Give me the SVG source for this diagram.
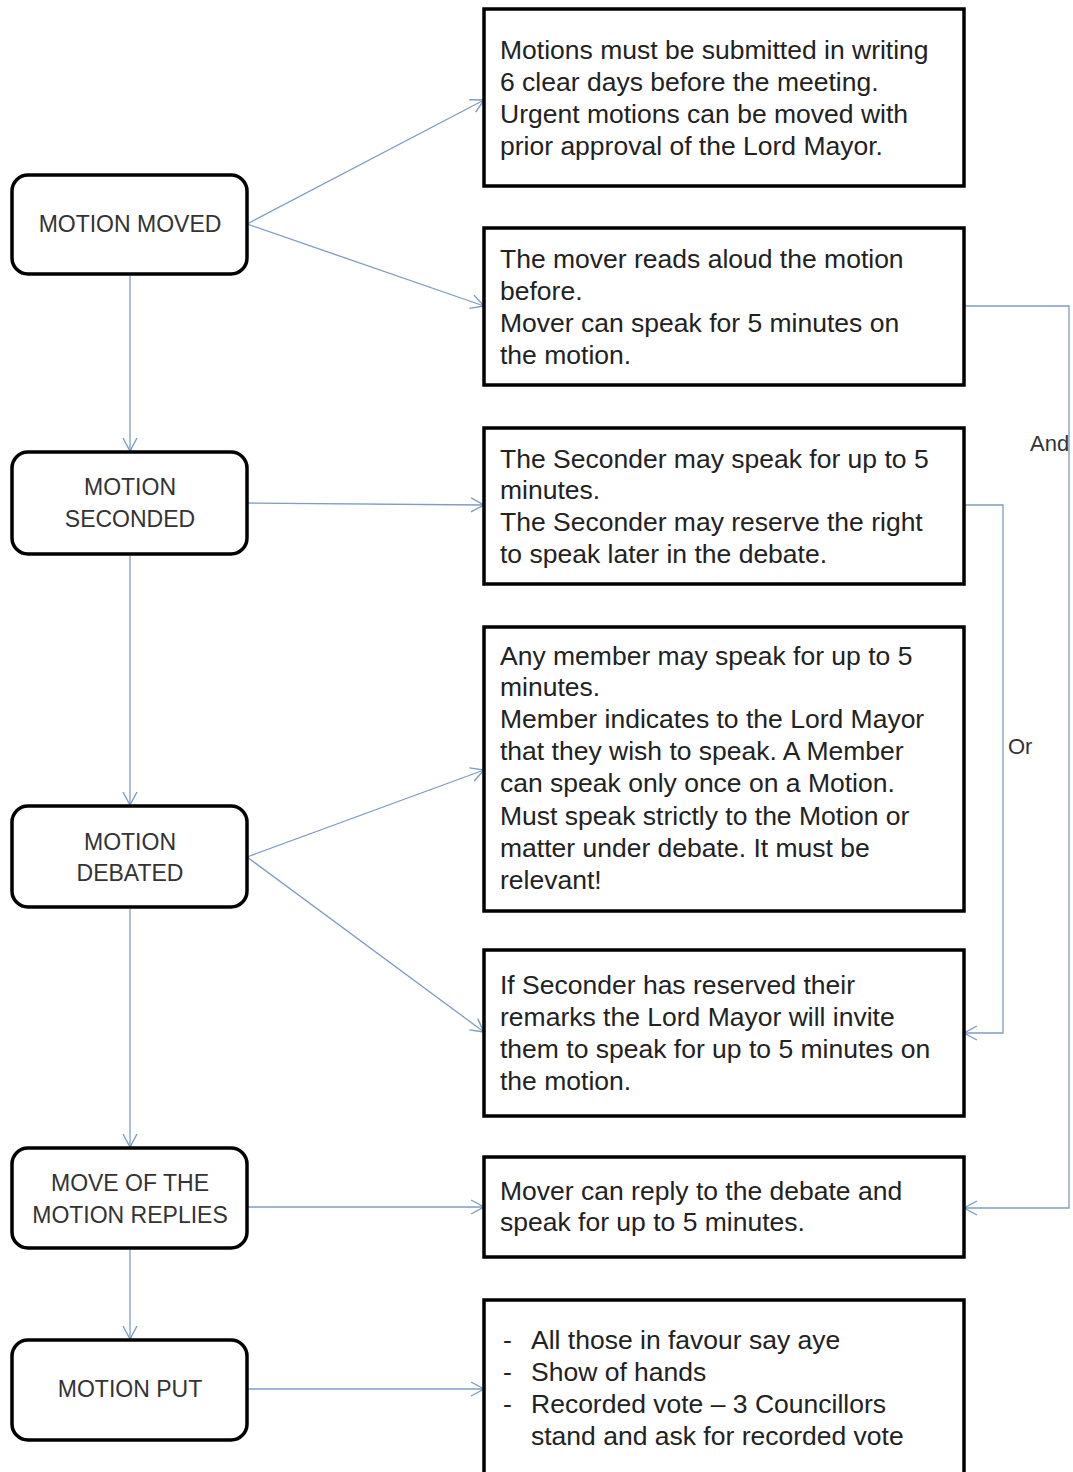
<svg xmlns="http://www.w3.org/2000/svg" width="1073" height="1472" viewBox="0 0 1073 1472">
<style>
.step{fill:#fff;stroke:#000;stroke-width:3.5}
.info{fill:#fff;stroke:#000;stroke-width:3.5}
.st{font-family:"Liberation Sans",Arial,sans-serif;font-size:23px;fill:#333;text-anchor:middle}
.it{font-family:"Liberation Sans",Arial,sans-serif;font-size:26.5px;fill:#222}
.lbl{font-family:"Liberation Sans",Arial,sans-serif;font-size:22px;fill:#333}
.c{fill:none;stroke:#7e9cc4;stroke-width:1.3}
</style>
<defs>
<marker id="ah" markerUnits="userSpaceOnUse" markerWidth="16" markerHeight="16" refX="14" refY="8" orient="auto">
<path d="M1,1 L14,8 L1,15" fill="none" stroke="#7e9cc4" stroke-width="1.4"/>
</marker>
</defs>
<rect width="1073" height="1472" fill="#fff"/>
<g id="connectors">
<line class="c" x1="247" y1="224" x2="484" y2="100" marker-end="url(#ah)"/>
<line class="c" x1="247" y1="224" x2="484" y2="306" marker-end="url(#ah)"/>
<line class="c" x1="130" y1="276" x2="130" y2="451" marker-end="url(#ah)"/>
<line class="c" x1="247" y1="503" x2="484" y2="505" marker-end="url(#ah)"/>
<line class="c" x1="130" y1="556" x2="130" y2="805" marker-end="url(#ah)"/>
<line class="c" x1="247" y1="857" x2="484" y2="770" marker-end="url(#ah)"/>
<line class="c" x1="247" y1="857" x2="484" y2="1032" marker-end="url(#ah)"/>
<line class="c" x1="130" y1="909" x2="130" y2="1147" marker-end="url(#ah)"/>
<line class="c" x1="247" y1="1207" x2="484" y2="1207" marker-end="url(#ah)"/>
<line class="c" x1="130" y1="1250" x2="130" y2="1339" marker-end="url(#ah)"/>
<line class="c" x1="247" y1="1389" x2="484" y2="1389" marker-end="url(#ah)"/>
<polyline class="c" points="964,306 1069,306 1069,1208 964,1208" marker-end="url(#ah)"/>
<polyline class="c" points="964,505 1003,505 1003,1033 964,1033" marker-end="url(#ah)"/>
<text class="lbl" x="1030" y="451">And</text>
<text class="lbl" x="1008" y="754">Or</text>
</g>
<g id="motion-moved">
<rect class="step" x="12" y="175" width="235" height="99" rx="16"/>
<text class="st" x="130" y="232">MOTION MOVED</text>
</g>
<g id="motion-seconded">
<rect class="step" x="12" y="452" width="235" height="102" rx="16"/>
<text class="st" x="130" y="495">MOTION</text>
<text class="st" x="130" y="527">SECONDED</text>
</g>
<g id="motion-debated">
<rect class="step" x="12" y="806" width="235" height="101" rx="16"/>
<text class="st" x="130" y="850">MOTION</text>
<text class="st" x="130" y="881">DEBATED</text>
</g>
<g id="mover-replies">
<rect class="step" x="12" y="1148" width="235" height="100" rx="16"/>
<text class="st" x="130" y="1191">MOVE OF THE</text>
<text class="st" x="130" y="1223">MOTION REPLIES</text>
</g>
<g id="motion-put">
<rect class="step" x="12" y="1340" width="235" height="100" rx="16"/>
<text class="st" x="130" y="1397">MOTION PUT</text>
</g>
<g id="info-submission">
<rect class="info" x="484" y="9" width="480" height="177"/>
<text class="it" x="500" y="59">Motions must be submitted in writing</text>
<text class="it" x="500" y="91">6 clear days before the meeting.</text>
<text class="it" x="500" y="123">Urgent motions can be moved with</text>
<text class="it" x="500" y="155">prior approval of the Lord Mayor.</text>
</g>
<g id="info-mover">
<rect class="info" x="484" y="228" width="480" height="157"/>
<text class="it" x="500" y="268">The mover reads aloud the motion</text>
<text class="it" x="500" y="300">before.</text>
<text class="it" x="500" y="332">Mover can speak for 5 minutes on</text>
<text class="it" x="500" y="364">the motion.</text>
</g>
<g id="info-seconder">
<rect class="info" x="484" y="428" width="480" height="156"/>
<text class="it" x="500" y="468">The Seconder may speak for up to 5</text>
<text class="it" x="500" y="499">minutes.</text>
<text class="it" x="500" y="531">The Seconder may reserve the right</text>
<text class="it" x="500" y="563">to speak later in the debate.</text>
</g>
<g id="info-debate">
<rect class="info" x="484" y="627" width="480" height="284"/>
<text class="it" x="500" y="665">Any member may speak for up to 5</text>
<text class="it" x="500" y="696">minutes.</text>
<text class="it" x="500" y="728">Member indicates to the Lord Mayor</text>
<text class="it" x="500" y="760">that they wish to speak. A Member</text>
<text class="it" x="500" y="792">can speak only once on a Motion.</text>
<text class="it" x="500" y="825">Must speak strictly to the Motion or</text>
<text class="it" x="500" y="857">matter under debate. It must be</text>
<text class="it" x="500" y="889">relevant!</text>
</g>
<g id="info-seconder-reserved">
<rect class="info" x="484" y="950" width="480" height="166"/>
<text class="it" x="500" y="994">If Seconder has reserved their</text>
<text class="it" x="500" y="1026">remarks the Lord Mayor will invite</text>
<text class="it" x="500" y="1058">them to speak for up to 5 minutes on</text>
<text class="it" x="500" y="1090">the motion.</text>
</g>
<g id="info-reply">
<rect class="info" x="484" y="1157" width="480" height="100"/>
<text class="it" x="500" y="1200">Mover can reply to the debate and</text>
<text class="it" x="500" y="1231">speak for up to 5 minutes.</text>
</g>
<g id="info-vote">
<rect class="info" x="484" y="1300" width="480" height="180"/>
<text class="it" x="503" y="1349">-</text>
<text class="it" x="531" y="1349">All those in favour say aye</text>
<text class="it" x="503" y="1381">-</text>
<text class="it" x="531" y="1381">Show of hands</text>
<text class="it" x="503" y="1413">-</text>
<text class="it" x="531" y="1413">Recorded vote – 3 Councillors</text>
<text class="it" x="531" y="1445">stand and ask for recorded vote</text>
</g>
</svg>
